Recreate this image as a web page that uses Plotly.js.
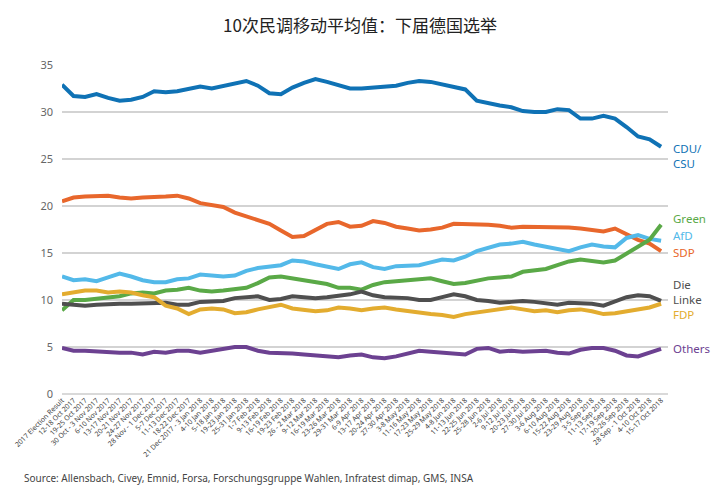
<!DOCTYPE html>
<html>
<head>
<meta charset="utf-8">
<script src="https://cdn.plot.ly/plotly-3.0.1.min.js"></script>
<style>
html,body{margin:0;padding:0;background:#fff;}
#chart{width:720px;height:500px;}
</style>
</head>
<body>
<div id="chart"></div>
<script>
const pollDates = [
  "2017 Election Result","12-18 Oct 2017","19-25 Oct 2017","30 Oct - 3 Nov 2017","6-10 Nov 2017",
  "13-17 Nov 2017","20-21 Nov 2017","24-27 Nov 2017","28 Nov - 1 Dec 2017","5-7 Dec 2017",
  "11-13 Dec 2017","18-22 Dec 2017","21 Dec 2017 - 3 Jan 2018","4-10 Jan 2018","5-18 Jan 2018",
  "19-23 Jan 2018","25-31 Jan 2018","1-7 Feb 2018","9-13 Feb 2018","16-19 Feb 2018",
  "19-23 Feb 2018","26 - 2 Mar 2018","9-12 Mar 2018","16-19 Mar 2018","23-26 Mar 2018",
  "29-31 Mar 2018","6-9 Apr 2018","13-17 Apr 2018","20-24 Apr 2018","27-30 Apr 2018",
  "3-8 May 2018","11-16 May 2018","17-23 May 2018","25-29 May 2018","4-8 Jun 2018",
  "11-13 Jun 2018","22-25 Jun 2018","25-28 Jun 2018","2-6 Jul 2018","9-12 Jul 2018",
  "20-23 Jul 2018","27-30 Jul 2018","3-6 Aug 2018","6-10 Aug 2018","15-22 Aug 2018",
  "23-29 Aug 2018","3-5 Sep 2018","11-13 Sep 2018","17-19 Sep 2018","20-26 Sep 2018",
  "28 Sep - 1 Oct 2018","4-10 Oct 2018","15-17 Oct 2018"
];

const cduCsu = [32.9,31.7,31.6,31.9,31.5,31.2,31.3,31.6,32.2,32.1,32.2,32.5,32.7,32.5,32.8,33.1,33.3,32.8,32.0,31.9,32.6,33.1,33.5,33.2,32.8,32.5,32.5,32.6,32.7,32.8,33.1,33.3,33.2,32.9,32.7,32.4,31.2,30.9,30.7,30.5,30.1,30.0,30.0,30.3,30.2,29.3,29.3,29.6,29.3,28.4,27.4,27.1,26.3];
const sdp = [20.5,20.9,21.0,21.0,21.1,20.9,20.8,20.9,20.9,21.0,21.1,20.8,20.3,20.1,19.9,19.3,18.9,18.6,18.1,17.4,16.7,16.8,17.5,18.1,18.3,17.8,17.9,18.4,18.2,17.8,17.6,17.4,17.5,17.7,18.1,18.1,18.1,18.0,17.9,17.7,17.8,17.8,17.7,17.7,17.7,17.6,17.5,17.3,17.6,17.0,16.4,16.0,15.2];
const afd = [12.5,12.1,12.2,12.0,12.4,12.8,12.5,12.1,11.9,11.9,12.2,12.3,12.7,12.6,12.5,12.6,13.1,13.4,13.6,13.7,14.2,14.1,13.8,13.6,13.3,13.8,14.0,13.5,13.3,13.6,13.7,13.7,14.0,14.3,14.2,14.6,15.2,15.6,15.9,16.0,16.2,15.9,15.7,15.4,15.2,15.6,15.9,15.7,15.6,16.6,16.9,16.5,16.3];
const green = [8.9,10.0,10.0,10.1,10.2,10.4,10.7,10.8,10.7,11.0,11.1,11.3,11.0,10.9,11.0,11.1,11.3,11.8,12.4,12.5,12.3,12.1,11.8,11.7,11.3,11.3,11.1,11.6,11.9,12.0,12.0,12.1,12.3,12.0,11.7,11.8,12.1,12.3,12.4,12.5,13.0,13.2,13.3,13.7,14.1,14.3,14.2,14.0,14.2,14.9,15.6,16.4,18.0];
const dieLinke = [9.6,9.5,9.4,9.5,9.6,9.6,9.6,9.6,9.6,9.7,9.5,9.5,9.8,9.8,9.9,10.2,10.3,10.4,10.0,10.1,10.4,10.3,10.2,10.3,10.4,10.6,10.9,10.5,10.3,10.3,10.2,10.0,10.0,10.3,10.6,10.4,10.0,9.9,9.7,9.8,9.9,9.8,9.6,9.5,9.7,9.7,9.6,9.4,9.8,10.3,10.5,10.4,9.9];
const fdp = [10.6,10.8,11.0,11.0,10.8,10.9,10.8,10.5,10.3,9.4,9.1,8.5,9.0,9.1,9.0,8.6,8.7,9.0,9.3,9.5,9.1,8.9,8.8,8.9,9.2,9.1,8.9,9.1,9.2,9.0,8.8,8.7,8.5,8.4,8.2,8.5,8.7,8.9,9.1,9.2,9.0,8.8,8.9,8.7,8.9,9.0,8.8,8.5,8.6,8.8,9.0,9.2,9.6];
const others = [4.9,4.6,4.6,4.5,4.4,4.4,4.4,4.2,4.5,4.4,4.6,4.6,4.4,4.6,4.9,5.0,5.0,4.6,4.4,4.4,4.3,4.2,4.1,3.9,3.9,4.1,4.2,3.9,3.8,4.0,4.3,4.6,4.5,4.4,4.3,4.2,4.8,4.9,4.5,4.6,4.5,4.5,4.6,4.4,4.3,4.7,4.9,4.9,4.6,4.1,4.0,4.4,4.8];

const seriesNames = ["CDU/<br>CSU","SDP","AfD","Green","Die<br>Linke","FDP","Others"];
const seriesValues = [cduCsu, sdp, afd, green, dieLinke, fdp, others];
const seriesColors = ["#0f72b5","#e8672c","#53b9e9","#5aa947","#4f4f4f","#e3ac2f","#6c4191"];
const labelY = [25.3, 15.1, 16.9, 18.7, 10.9, 8.5, 4.8];

const latin = '"Noto Sans", "Open Sans", sans-serif';

const traces = seriesValues.map((vals, i) => ({
  type: 'scatter',
  mode: 'lines',
  x: pollDates,
  y: vals,
  name: seriesNames[i],
  line: {color: seriesColors[i], width: 4, shape: 'linear'},
  hoverinfo: 'skip'
}));

const annotations = seriesNames.map((n, i) => ({
  xref: 'paper', yref: 'y', x: 1, y: labelY[i],
  xanchor: 'left', yanchor: 'middle', xshift: 3,
  text: n, showarrow: false, align: 'left',
  font: {family: latin, size: 11.5, color: seriesColors[i]}
}));
annotations.push({
  xref: 'paper', yref: 'paper', x: -0.066, y: -0.255,
  xanchor: 'left', yanchor: 'middle', showarrow: false,
  text: 'Source: Allensbach, Civey, Emnid, Forsa, Forschungsgruppe Wahlen, Infratest dimap, GMS, INSA',
  font: {family: latin, size: 10, color: '#444'}
});

const layout = {
  width: 720, height: 500,
  margin: {l: 62, r: 52, t: 65, b: 106},
  paper_bgcolor: '#fff', plot_bgcolor: '#fff',
  showlegend: false,
  title: {
    text: '10次民调移动平均值：下届德国选举',
    x: 0.5, xanchor: 'center', y: 0.947, yanchor: 'middle',
    font: {family: '"Noto Sans CJK SC", sans-serif', size: 17, color: '#222'}
  },
  xaxis: {
    type: 'category',
    range: [0, 52.6],
    tickmode: 'linear', tick0: 0, dtick: 1,
    tickangle: -45,
    tickfont: {family: latin, size: 7, color: '#444'},
    showgrid: false, zeroline: false,
    showline: false, ticks: '', ticklen: 0
  },
  yaxis: {
    range: [0, 35],
    tickmode: 'linear', tick0: 0, dtick: 5,
    tickfont: {family: latin, size: 11, color: '#666'},
    gridcolor: '#d3d3d3', gridwidth: 1.5,
    zeroline: true, zerolinecolor: '#d9d9d9', zerolinewidth: 2.5,
    showline: false, ticks: '', ticklabelstandoff: 8
  },
  annotations: annotations
};

Plotly.newPlot('chart', traces, layout, {displayModeBar: false, staticPlot: true});
</script>
</body>
</html>
